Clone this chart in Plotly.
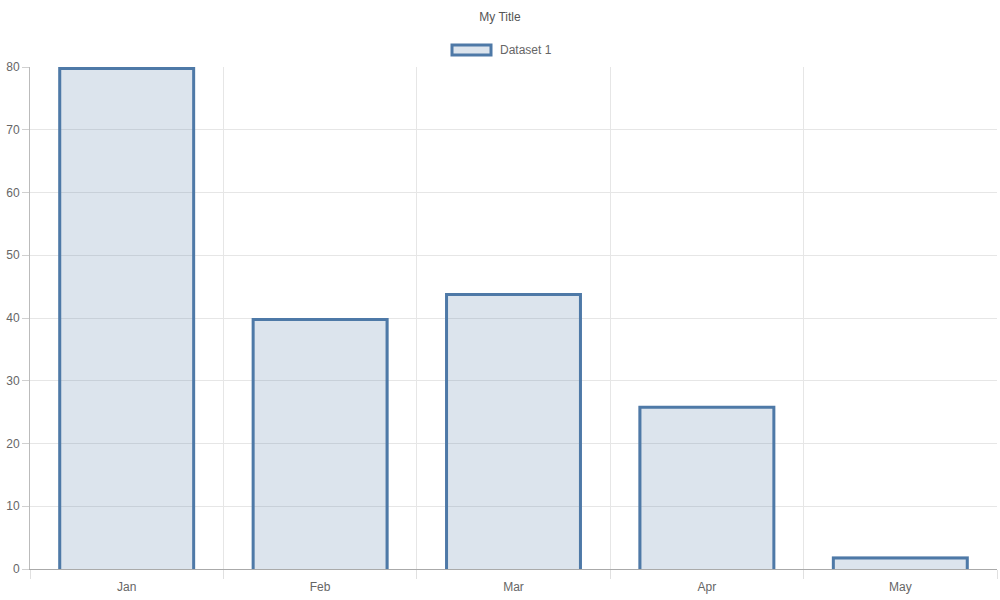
import plotly.graph_objects as go

categories = ["Jan", "Feb", "Mar", "Apr", "May"]
values = [80, 40, 44, 26, 2]
series_name = "Dataset 1"
title_text = "My Title"

border_color = "#4e79a7"
fill_color = "rgba(78,121,167,0.2)"
bar_width = 0.708
font_family = "Liberation Sans, Arial, sans-serif"

y_max = 80
plot_h_px = 502
border_px = 3
inset_y = (border_px / 2) * y_max / plot_h_px
inset_x = (border_px / 2) / 193.4

xs = list(range(len(categories)))

# outline (top and sides only, inset like Chart.js, bottom skipped)
ox, oy = [], []
for i, v in zip(xs, values):
    l, r = i - bar_width / 2 + inset_x, i + bar_width / 2 - inset_x
    top = v - inset_y
    ox += [l, l, r, r, None]
    oy += [0, top, top, 0, None]

fig = go.Figure()
fig.add_trace(go.Bar(x=xs, y=values, width=bar_width, name=series_name,
                     marker=dict(color=fill_color, line=dict(width=0)),
                     hoverinfo="skip", showlegend=False))
fig.add_trace(go.Scatter(x=ox, y=oy, mode="lines",
                         line=dict(color=border_color, width=border_px),
                         hoverinfo="skip", showlegend=False))

fig.update_layout(
    width=1000, height=600,
    margin=dict(l=30, r=3, t=67, b=31, autoexpand=False),
    paper_bgcolor="white", plot_bgcolor="white",
    font=dict(family=font_family, size=12, color="#666"),
    title=dict(text=title_text, x=0.5, xanchor="center", y=1 - 17 / 600, yanchor="middle",
               font=dict(size=12, color="#555")),
    bargap=0,
)

fig.update_xaxes(
    range=[-0.5, len(categories) - 0.5],
    tickmode="array", tickvals=xs, ticktext=categories,
    ticks="outside", ticklen=7, tickcolor="rgba(0,0,0,0)",
    showgrid=False, zeroline=False, automargin=False,
    showline=True, linecolor="#aaa", linewidth=1,
    minor=dict(tick0=-0.5, dtick=1, showgrid=True, gridcolor="#e6e6e6",
               ticks="outside", ticklen=9, tickcolor="#e0e0e0"),
    tickfont=dict(size=12, color="#666"),
)
fig.update_yaxes(
    range=[0, y_max], dtick=10, tick0=0,
    showgrid=True, gridcolor="#e6e6e6", zeroline=False, automargin=False,
    showline=True, linecolor="#bbb", linewidth=1,
    ticks="outside", ticklen=7, tickcolor="#d0d0d0",
    tickfont=dict(size=12, color="#666"),
)

# custom legend box like Chart.js
fig.add_shape(type="rect", xref="paper", yref="paper",
              x0=(452 - 30) / 967, x1=(491 - 30) / 967,
              y0=1 + (67 - 55) / 502, y1=1 + (67 - 45) / 502,
              line=dict(color=border_color, width=3), fillcolor=fill_color)
fig.add_annotation(text=series_name, xref="paper", yref="paper",
                   x=(498 - 30) / 967, y=1 + (67 - 50) / 502,
                   xanchor="left", yanchor="middle", showarrow=False,
                   font=dict(size=12, color="#666"))

fig.write_html("out.html", config={"displayModeBar": False},
               post_script="document.body.style.margin='0';document.body.style.overflow='hidden';")
